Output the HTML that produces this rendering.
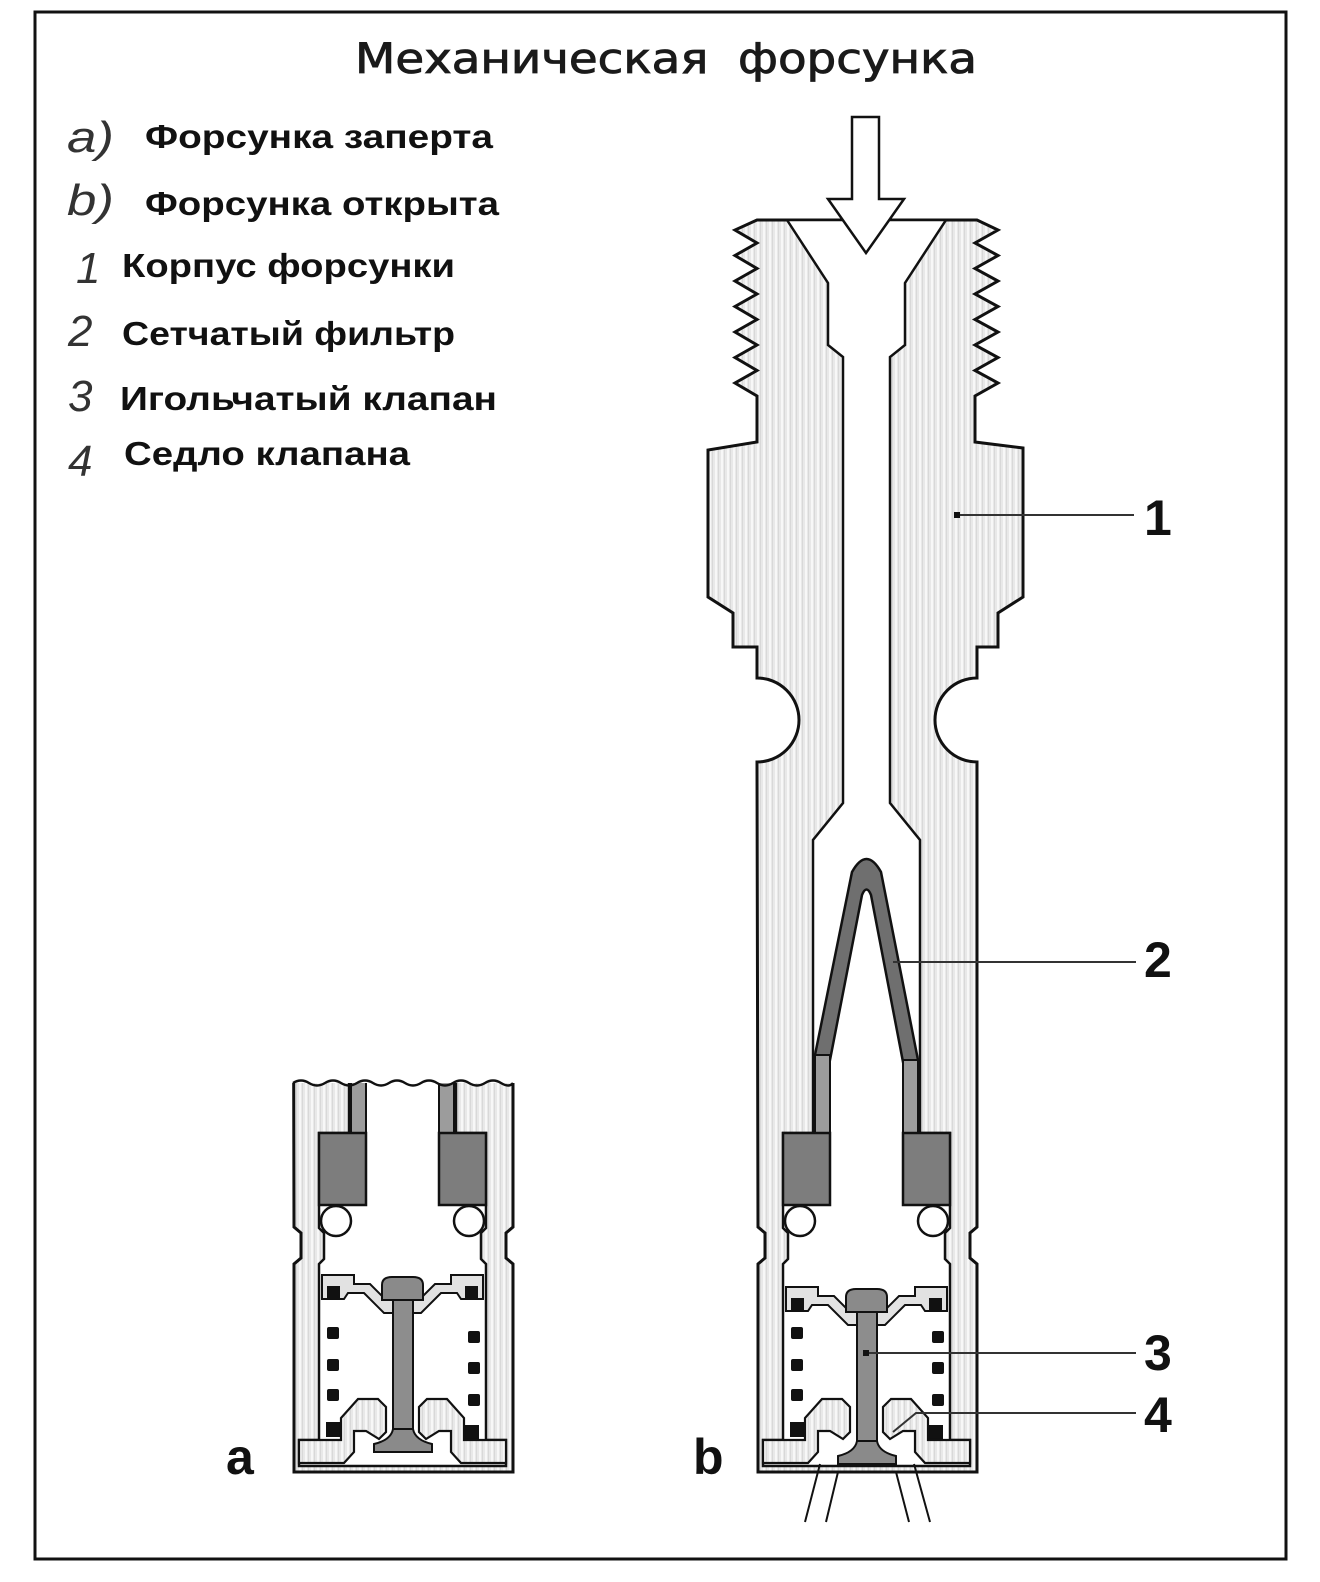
<!DOCTYPE html>
<html>
<head>
<meta charset="utf-8">
<style>
html,body{margin:0;padding:0;background:#fff;}
svg{display:block;}
</style>
</head>
<body>
<svg xmlns="http://www.w3.org/2000/svg" xmlns:xlink="http://www.w3.org/1999/xlink" width="1320" height="1582" viewBox="0 0 1320 1582">
<defs>
  <pattern id="h" width="6" height="10" patternUnits="userSpaceOnUse">
    <rect width="6" height="10" fill="#e8e8e8"/>
    <rect x="1" width="2" height="10" fill="#f7f7f7"/>
    <rect x="4" width="1" height="10" fill="#d8d8d8"/>
  </pattern>
  <clipPath id="ca"><rect x="700" y="1083" width="320" height="420"/></clipPath>

  <g id="bodyB">
    <path fill="url(#h)" stroke="#111" stroke-width="3" stroke-linejoin="miter" d="
      M 757 220 L 977 220
      L 998 230 L 975 243 L 998 255.5 L 975 268.5 L 998 281 L 975 294 L 998 306.5 L 975 319.5
      L 998 332 L 975 345 L 998 357.5 L 975 370.5 L 998 383 L 975 396
      L 975 442 L 1023 448 L 1023 597 L 998 613 L 998 647 L 977 647 L 977 678
      A 42 42 0 0 0 977 762
      L 977 1227 L 970 1233 L 970 1258 L 977 1264 L 977 1472
      L 758 1472 L 758 1264 L 765 1258 L 765 1233 L 758 1227 L 757 762
      A 42 42 0 0 0 757 678
      L 757 647 L 733 647 L 733 613 L 708 597 L 708 450 L 757 442 L 757 396
      L 735 383 L 757 370.5 L 735 357.5 L 757 345 L 735 332 L 757 319.5 L 735 306.5
      L 757 294 L 735 281 L 757 268.5 L 735 255.5 L 757 243 L 735 230 Z"/>
    <path fill="#fff" stroke="#111" stroke-width="2.5" d="
      M 787 220 L 828 283 L 828 345 L 843 357 L 843 803 L 813 840 L 813 1133 L 783 1133
      L 783 1228 L 788 1233 L 788 1259 L 783 1264 L 783 1440 L 763 1440 L 763 1466
      L 970 1466 L 970 1440 L 950 1440 L 950 1264 L 945 1259 L 945 1233 L 950 1228
      L 950 1133 L 920 1133 L 920 840 L 890 803 L 890 357 L 905 345 L 905 283 L 946 220 Z"/>
  </g>

  <g id="innerB">
    <rect x="815" y="1055" width="15" height="80" fill="#9c9c9c" stroke="#111" stroke-width="2"/>
    <rect x="903" y="1060" width="15" height="75" fill="#9c9c9c" stroke="#111" stroke-width="2"/>
    <rect x="783" y="1133" width="47" height="72" fill="#7d7d7d" stroke="#111" stroke-width="2.5"/>
    <rect x="903" y="1133" width="47" height="72" fill="#7d7d7d" stroke="#111" stroke-width="2.5"/>
    <circle cx="800" cy="1221" r="15" fill="#fff" stroke="#111" stroke-width="2.5"/>
    <circle cx="933" cy="1221" r="15" fill="#fff" stroke="#111" stroke-width="2.5"/>
    <rect x="791" y="1327" width="12" height="12" rx="2" fill="#111"/>
    <rect x="791" y="1359" width="12" height="12" rx="2" fill="#111"/>
    <rect x="791" y="1389" width="12" height="12" rx="2" fill="#111"/>
    <rect x="932" y="1331" width="12" height="12" rx="2" fill="#111"/>
    <rect x="932" y="1362" width="12" height="12" rx="2" fill="#111"/>
    <rect x="932" y="1394" width="12" height="12" rx="2" fill="#111"/>
    <rect x="790" y="1422" width="15" height="15" fill="#111"/>
    <rect x="929" y="1425" width="14" height="15" fill="#111"/>
    <path fill="url(#h)" stroke="#111" stroke-width="2.2" d="M 763 1440 L 805 1440 L 805 1418 L 822 1399 L 842 1399 L 850 1407 L 850 1432 L 843 1439 L 830 1431 L 818 1431 L 818 1452 L 808 1463 L 763 1463 Z"/>
    <path fill="url(#h)" stroke="#111" stroke-width="2.2" d="M 970 1440 L 928 1440 L 928 1418 L 911 1399 L 891 1399 L 883 1407 L 883 1432 L 890 1439 L 903 1431 L 915 1431 L 915 1452 L 925 1463 L 970 1463 Z"/>
  </g>

  <g id="needleB">
    <path fill="#e2e2e2" stroke="#111" stroke-width="2" d="M 786 1287 L 818 1287 L 818 1296 L 834 1296 L 850 1312 L 883 1312 L 899 1296 L 915 1296 L 915 1287 L 947 1287 L 947 1311 L 925 1311 L 921 1305 L 905 1305 L 885 1325 L 848 1325 L 828 1305 L 812 1305 L 808 1311 L 786 1311 Z"/>
    <rect x="791" y="1298" width="13" height="12" fill="#111"/>
    <rect x="929" y="1298" width="13" height="12" fill="#111"/>
    <rect x="857" y="1308" width="20" height="136" fill="#8d8d8d" stroke="#111" stroke-width="2"/>
    <path fill="#8a8a8a" stroke="#111" stroke-width="2" d="M 846 1312 L 846 1297 Q 846 1289 856 1289 L 877 1289 Q 887 1289 887 1297 L 887 1312 Z"/>
    <path fill="#8a8a8a" stroke="#111" stroke-width="2" d="M 857 1441 Q 855 1452 838 1456 L 838 1464 L 896 1464 L 896 1456 Q 879 1452 877 1441 Z"/>
  </g>
</defs>

<rect x="35" y="12" width="1251" height="1547" fill="none" stroke="#111" stroke-width="3"/>

<text x="355" y="73" font-family="'DejaVu Sans Condensed','DejaVu Sans','Liberation Sans',sans-serif" font-size="42" fill="#1a1a1a" stroke="#1a1a1a" stroke-width="0.8" textLength="622" lengthAdjust="spacingAndGlyphs" style="white-space:pre">Механическая  форсунка</text>

<g font-family="'Liberation Sans','DejaVu Sans',sans-serif" font-style="italic" fill="#333" font-size="44">
  <text x="67" y="152" textLength="47" lengthAdjust="spacingAndGlyphs">a)</text>
  <text x="67" y="215" textLength="47" lengthAdjust="spacingAndGlyphs">b)</text>
  <text x="76" y="283">1</text>
  <text x="68" y="346">2</text>
  <text x="68" y="411">3</text>
  <text x="68" y="476">4</text>
</g>
<g font-family="'Liberation Sans','DejaVu Sans',sans-serif" font-weight="bold" fill="#111" font-size="33">
  <text x="145" y="148" textLength="348" lengthAdjust="spacingAndGlyphs">Форсунка заперта</text>
  <text x="145" y="215" textLength="354" lengthAdjust="spacingAndGlyphs">Форсунка открыта</text>
  <text x="122" y="277" textLength="333" lengthAdjust="spacingAndGlyphs">Корпус форсунки</text>
  <text x="122" y="345" textLength="333" lengthAdjust="spacingAndGlyphs">Сетчатый фильтр</text>
  <text x="120" y="410" textLength="377" lengthAdjust="spacingAndGlyphs">Игольчатый клапан</text>
  <text x="124" y="465" textLength="286" lengthAdjust="spacingAndGlyphs">Седло клапана</text>
</g>

<use href="#bodyB" xlink:href="#bodyB"/>
<path fill="#6f6f6f" stroke="#111" stroke-width="2.5" d="M 815 1055 L 852 872 Q 866.5 846 881 872 L 918 1060 L 903 1062 L 871 895 Q 866.5 884 862 895 L 830 1060 Z"/>
<use href="#innerB" xlink:href="#innerB"/>
<use href="#needleB" xlink:href="#needleB"/>
<g stroke="#111" stroke-width="2" fill="none">
  <line x1="820" y1="1464" x2="805" y2="1522"/>
  <line x1="838" y1="1472" x2="826" y2="1522"/>
  <line x1="896" y1="1472" x2="909" y2="1522"/>
  <line x1="914" y1="1464" x2="930" y2="1522"/>
</g>
<path fill="#fff" stroke="#111" stroke-width="2.5" stroke-linejoin="miter" d="M 852 117 L 879 117 L 879 199 L 904 199 L 866 253 L 828 199 L 852 199 Z"/>

<g stroke="#333" stroke-width="2" fill="none">
  <line x1="957" y1="515" x2="1134" y2="515"/>
  <line x1="893" y1="962" x2="1136" y2="962"/>
  <line x1="866" y1="1353" x2="1136" y2="1353"/>
  <polyline points="893,1432 916,1413 1136,1413"/>
</g>
<rect x="954" y="512" width="6" height="6" fill="#111"/>
<rect x="863" y="1350" width="6" height="6" fill="#111"/>

<g font-family="'Liberation Sans','DejaVu Sans',sans-serif" font-weight="bold" fill="#111" font-size="50">
  <text x="1144" y="535">1</text>
  <text x="1144" y="977">2</text>
  <text x="1144" y="1370">3</text>
  <text x="1144" y="1432">4</text>
  <text x="226" y="1474">a</text>
  <text x="693" y="1474">b</text>
</g>

<g transform="translate(-464,0)">
  <g clip-path="url(#ca)">
    <use href="#bodyB" xlink:href="#bodyB"/>
    <use href="#innerB" xlink:href="#innerB"/>
    <g transform="translate(0,-12)">
      <use href="#needleB" xlink:href="#needleB"/>
    </g>
  </g>
</g>
<path fill="none" stroke="#111" stroke-width="2.5" d="M 293 1083 Q 301 1078 309 1083 T 325 1083 T 341 1083 T 357 1083 T 373 1083 T 389 1083 T 405 1083 T 421 1083 T 437 1083 T 453 1083 T 469 1083 T 485 1083 T 501 1083 T 513 1083"/>
</svg>
</body>
</html>
